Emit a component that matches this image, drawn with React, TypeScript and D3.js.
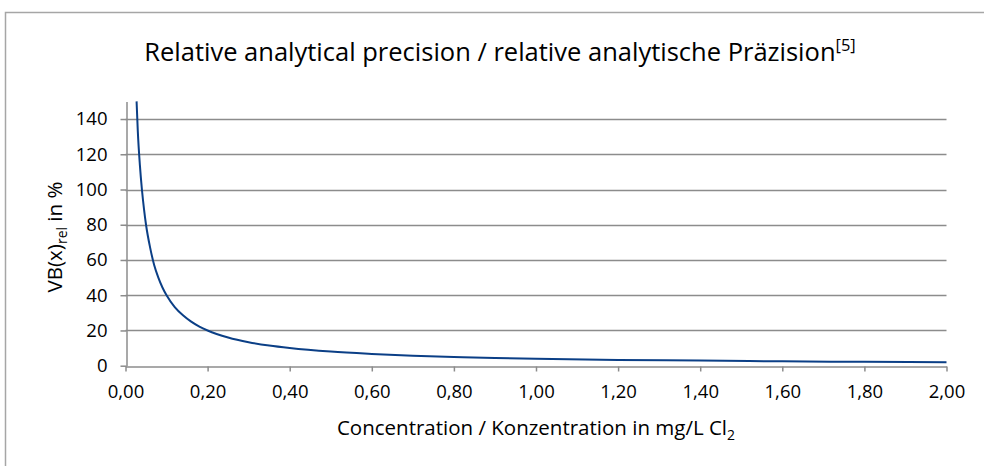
import React, { useEffect, useRef } from 'react';
import * as d3 from 'd3';

// values
const concentration = [0.027, 0.03, 0.035, 0.04, 0.045, 0.05, 0.06, 0.07, 0.08, 0.09, 0.10, 0.12, 0.14, 0.16, 0.18, 0.20, 0.25, 0.30, 0.35, 0.40, 0.50, 0.60, 0.70, 0.80, 0.90, 1.00, 1.20, 1.40, 1.60, 1.80, 2.00];
const vbRel = [150, 133, 114, 100, 89, 80, 67, 57, 50, 44.4, 40, 33.3, 28.6, 25, 22.2, 20, 16, 13.3, 11.4, 10, 8, 6.7, 5.7, 5, 4.4, 4, 3.3, 2.9, 2.5, 2.2, 2.0];
const xTicks = [0, 0.2, 0.4, 0.6, 0.8, 1.0, 1.2, 1.4, 1.6, 1.8, 2.0];
const yTicks = [0, 20, 40, 60, 80, 100, 120, 140];

const W = 984;
const H = 466;
const FONT = "'Open Sans', sans-serif";

const App = () => {
  const svgRef = useRef<SVGSVGElement>(null);

  useEffect(() => {
    const svg = d3.select(svgRef.current);
    svg.selectAll('*').remove();

    const x = d3.scaleLinear().domain([0, 2]).range([125.5, 946.5]);
    const y = d3.scaleLinear().domain([0, 150]).range([365.7, 101.4]);
    const fmt = (v: number) => v.toFixed(2).replace('.', ',');

    // chart frame
    svg.append('rect')
      .attr('x', 5.5).attr('y', 12.5)
      .attr('width', W).attr('height', H)
      .attr('fill', '#fff')
      .attr('stroke', '#a6a6a6')
      .attr('stroke-width', 1.5);

    // title
    const title = svg.append('text')
      .attr('x', 500).attr('y', 61)
      .attr('text-anchor', 'middle')
      .style('font-family', FONT)
      .style('font-size', '25.5px')
      .attr('fill', '#000');
    title.append('tspan').text('Relative analytical precision / relative analytische Präzision');
    title.append('tspan').attr('dy', -10).style('font-size', '16.5px').text('[5]');

    // gridlines
    svg.append('g')
      .selectAll('line')
      .data(yTicks.filter(d => d > 0))
      .join('line')
      .attr('x1', x(0)).attr('x2', x(2))
      .attr('y1', d => Math.round(y(d)) + 0.5).attr('y2', d => Math.round(y(d)) + 0.5)
      .attr('stroke', '#8c8c8c')
      .attr('stroke-width', 1.5);

    // x axis
    const xAxis = svg.append('g')
      .attr('transform', `translate(0,${Math.round(y(0)) + 0.5})`)
      .call(d3.axisBottom(x).tickValues(xTicks).tickFormat(d => fmt(d as number)).tickSize(5).tickSizeOuter(0));
    xAxis.select('.domain').attr('stroke', '#8c8c8c').attr('stroke-width', 1.5);
    xAxis.selectAll('.tick line').attr('stroke', '#8c8c8c').attr('stroke-width', 1.5);
    xAxis.selectAll('.tick text')
      .attr('y', 18)
      .attr('fill', '#000')
      .style('font-family', FONT)
      .style('font-size', '18.5px');

    // y axis
    const yAxis = svg.append('g')
      .attr('transform', `translate(${Math.round(x(0)) + 0.5},0)`)
      .call(d3.axisLeft(y).tickValues(yTicks).tickFormat(d3.format('d')).tickSize(6).tickSizeOuter(0));
    yAxis.select('.domain').attr('stroke', '#8c8c8c').attr('stroke-width', 1.5);
    yAxis.selectAll('.tick line').attr('stroke', '#8c8c8c').attr('stroke-width', 1.5);
    yAxis.selectAll('.tick text')
      .attr('x', -19)
      .attr('fill', '#000')
      .style('font-family', FONT)
      .style('font-size', '18.5px');

    // curve
    const pts = concentration.map((c, i) => [c, vbRel[i]] as [number, number]);
    const line = d3.line<[number, number]>()
      .x(d => x(d[0]))
      .y(d => y(d[1]))
      .curve(d3.curveMonotoneX);
    svg.append('path')
      .datum(pts)
      .attr('d', line)
      .attr('fill', 'none')
      .attr('stroke', '#0b3f86')
      .attr('stroke-width', 2);

    // x axis title
    const xt = svg.append('text')
      .attr('x', 536).attr('y', 435)
      .attr('text-anchor', 'middle')
      .style('font-family', FONT)
      .style('font-size', '20.5px')
      .attr('fill', '#000');
    xt.append('tspan').text('Concentration / Konzentration in mg/L Cl');
    xt.append('tspan').attr('dy', 5).style('font-size', '14px').text('2');

    // y axis title
    const yt = svg.append('text')
      .attr('transform', 'translate(62,237) rotate(-90)')
      .attr('text-anchor', 'middle')
      .style('font-family', FONT)
      .style('font-size', '20.5px')
      .attr('fill', '#000');
    yt.append('tspan').text('VB(x)');
    yt.append('tspan').attr('dy', 5).style('font-size', '14px').text('rel');
    yt.append('tspan').attr('dy', -5).text(' in %');
  }, []);

  return (
    <div style={{ position: 'absolute', left: 0, top: 0, width: W, height: H, overflow: 'hidden', background: '#fff' }}>
      <svg ref={svgRef} width={W} height={H} style={{ display: 'block' }} />
    </div>
  );
};

export default App;
